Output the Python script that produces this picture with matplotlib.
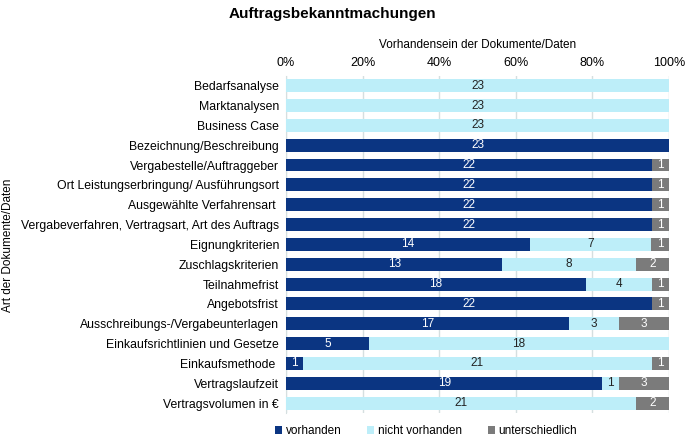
import matplotlib.pyplot as plt
import numpy as np

plt.rcParams['font.family'] = ['Liberation Sans', 'DejaVu Sans']

kategorien = [
    "Bedarfsanalyse",
    "Marktanalysen",
    "Business Case",
    "Bezeichnung/Beschreibung",
    "Vergabestelle/Auftraggeber",
    "Ort Leistungserbringung/ Ausführungsort",
    "Ausgewählte Verfahrensart ",
    "Vergabeverfahren, Vertragsart, Art des Auftrags",
    "Eignungkriterien",
    "Zuschlagskriterien",
    "Teilnahmefrist",
    "Angebotsfrist",
    "Ausschreibungs-/Vergabeunterlagen",
    "Einkaufsrichtlinien und Gesetze",
    "Einkaufsmethode ",
    "Vertragslaufzeit",
    "Vertragsvolumen in €",
]
vorhanden = [0, 0, 0, 23, 22, 22, 22, 22, 14, 13, 18, 22, 17, 5, 1, 19, 0]
nicht_vorhanden = [23, 23, 23, 0, 0, 0, 0, 0, 7, 8, 4, 0, 3, 18, 21, 1, 21]
unterschiedlich = [0, 0, 0, 0, 1, 1, 1, 1, 1, 2, 1, 1, 3, 0, 1, 3, 2]

reihen = [
    ("vorhanden", vorhanden, "#0b3582", "white"),
    ("nicht vorhanden", nicht_vorhanden, "#bdeef9", "#222222"),
    ("unterschiedlich", unterschiedlich, "#7b7b7b", "white"),
]

v = np.array(vorhanden, float)
n = np.array(nicht_vorhanden, float)
u = np.array(unterschiedlich, float)
gesamt = v + n + u

fig = plt.figure(figsize=(6.85, 4.38), dpi=100)
ax = fig.add_axes([0.4175, 0.057, 0.559, 0.770])

y = np.arange(len(kategorien))
links = np.zeros(len(kategorien))
for name, werte, farbe, textfarbe in reihen:
    w = np.array(werte, float) / gesamt
    ax.barh(y, w, left=links, height=0.65, color=farbe, label=name, zorder=3)
    for i in range(len(kategorien)):
        if werte[i] > 0:
            ax.text(links[i] + w[i] / 2, y[i], str(werte[i]), ha="center", va="center",
                    fontsize=8.5, color=textfarbe, zorder=4)
    links = links + w

ax.set_xlim(0, 1)
ax.set_ylim(len(kategorien) - 0.5, -0.5)
ax.set_yticks(y)
ax.set_yticklabels(kategorien, fontsize=8.8)
ax.set_xticks(np.linspace(0, 1, 6))
ax.set_xticklabels(["0%", "20%", "40%", "60%", "80%", "100%"], fontsize=9)
ax.xaxis.tick_top()
ax.xaxis.set_label_position("top")
ax.set_xlabel("Vorhandensein der Dokumente/Daten", fontsize=8.5, labelpad=6)
ax.tick_params(length=0, pad=5)
ax.grid(axis="x", color="#d5dfe0", linewidth=1, zorder=0)
for s in ["top", "bottom", "right"]:
    ax.spines[s].set_visible(False)
ax.spines["left"].set_color("#d5dfe0")

fig.text(0.012, 0.44, "Art der Dokumente/Daten", rotation=90, ha="center", va="center",
         fontsize=8.5)

fig.suptitle("Auftragsbekanntmachungen", fontsize=11, fontweight="bold", x=0.486, y=0.985)

ax.legend(loc="upper center", bbox_to_anchor=(0.366, -0.005), ncol=3, frameon=False,
          fontsize=8.5, handlelength=0.6, handleheight=0.6, handletextpad=0.3, columnspacing=2.2)

fig.savefig("out.png", dpi=100)
